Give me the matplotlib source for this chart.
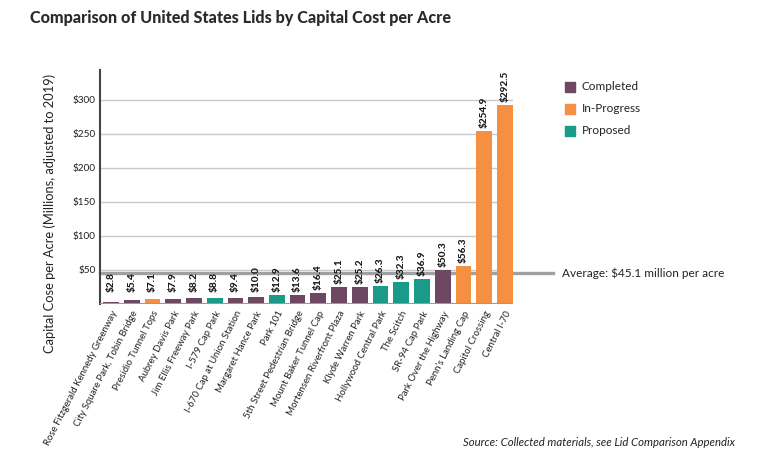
import matplotlib.pyplot as plt
import matplotlib.transforms as mtransforms
from matplotlib.patches import Rectangle

plt.rcParams['font.family'] = ['Lato', 'DejaVu Sans']

# Data
projects = [
    "Rose Fitzgerald Kennedy Greenway", "City Square Park, Tobin Bridge",
    "Presidio Tunnel Tops", "Aubrey Davis Park", "Jim Ellis Freeway Park",
    "I-579 Cap Park", "I-670 Cap at Union Station", "Margaret Hance Park",
    "Park 101", "5th Street Pedestrian Bridge", "Mount Baker Tunnel Cap",
    "Mortensen Riverfront Plaza", "Klyde Warren Park", "Hollywood Central Park",
    "The Scitch", "SR-94 Cap Park", "Park Over the Highway",
    "Penn's Landing Cap", "Capitol Crossing", "Central I-70",
]
cost = [2.8, 5.4, 7.1, 7.9, 8.2, 8.8, 9.4, 10.0, 12.9, 13.6, 16.4,
        25.1, 25.2, 26.3, 32.3, 36.9, 50.3, 56.3, 254.9, 292.5]
status = ["Completed", "Completed", "In-Progress", "Completed", "Completed",
          "Proposed", "Completed", "Completed", "Proposed", "Completed",
          "Completed", "Completed", "Completed", "Proposed", "Proposed",
          "Proposed", "Completed", "In-Progress", "In-Progress", "In-Progress"]
average = 45.1
yticks = [50, 100, 150, 200, 250, 300]

colors = {"Completed": "#6e4762", "In-Progress": "#f58f41", "Proposed": "#1a9a89"}

fig = plt.figure(figsize=(7.59, 4.49), dpi=100)
ax = fig.add_axes([100 / 759, 145 / 449, 413 / 759, 234 / 449])

x = list(range(len(projects)))
ax.bar(x, cost, width=0.76, color=[colors[s] for s in status], zorder=3)

ax.set_xlim(-0.53, len(projects) - 0.61)
ax.set_ylim(0, 344)

# gridlines
for t in yticks:
    ax.axhline(t, color="#c9c9c9", lw=1, zorder=1)
ax.axhline(0, color="#9a9a9a", lw=1.5, zorder=4)

# average line, runs past the plot to the right, behind the bars
trans = mtransforms.blended_transform_factory(ax.transAxes, ax.transData)
ax.plot([0, 453 / 413], [average, average], color="#a0a0a0", lw=2.4,
        transform=trans, clip_on=False, zorder=2)
ax.text(462 / 413, average, f"Average: ${average} million per acre",
        transform=trans, va="center", ha="left", fontsize=8.5, color="#222222")

# value labels
for xi, v in zip(x, cost):
    ax.annotate(f"${v:.1f}", (xi, max(v, 13)), xytext=(0, 2),
                textcoords="offset points", rotation=90, ha="center",
                va="bottom", fontsize=7.2, fontweight="black", color="#1a1a1a",
                zorder=6)

ax.set_yticks(yticks)
ax.set_yticklabels([f"${t}" for t in yticks], fontsize=7.2, color="#222222")
ax.tick_params(axis="y", length=0, pad=3)
ax.set_xticks(x)
ax.set_xticklabels(projects, rotation=63, ha="right", rotation_mode="anchor",
                   fontsize=6.9, color="#222222")
ax.tick_params(axis="x", length=0, pad=4)

for s in ["top", "right", "bottom"]:
    ax.spines[s].set_visible(False)
ax.spines["left"].set_color("#444444")
ax.spines["left"].set_linewidth(1.5)

ax.set_ylabel("Capital Cose per Acre (Millions, adjusted to 2019)",
              fontsize=9.3, color="#222222")
ax.yaxis.set_label_coords(-0.107, 0.385)

# legend
for i, (name, c) in enumerate(colors.items()):
    y = 1 - (87 + 22 * i) / 449
    fig.patches.append(Rectangle((565 / 759, y - 5 / 449), 10 / 759, 10 / 449,
                                 transform=fig.transFigure, color=c))
    fig.text(582 / 759, y, name, va="center", ha="left", fontsize=8.5,
             color="#222222")

fig.text(30 / 759, 1 - 18 / 449,
         "Comparison of United States Lids by Capital Cost per Acre",
         fontsize=11.6, fontweight="black", color="#2a2a2a", va="center")
fig.text(735 / 759, 1 - 443 / 449,
         "Source: Collected materials, see Lid Comparison Appendix",
         fontsize=8.2, style="italic", color="#222222", ha="right", va="center")

fig.savefig("out.png", dpi=100)
